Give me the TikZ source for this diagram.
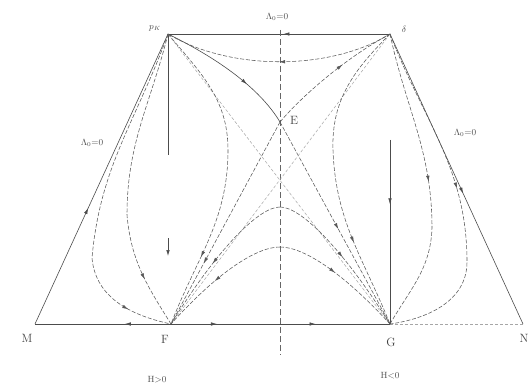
\documentclass[tikz,border=0pt]{standalone}
\usetikzlibrary{arrows.meta,decorations.markings}
\tikzset{
  edge/.style={draw=black!70, line width=0.6pt},
  traj/.style={draw=black!65, line width=0.55pt, dash pattern=on 4pt off 1.8pt},
  faint/.style={draw=black!35, line width=0.5pt, dash pattern=on 3pt off 2pt},
  axisline/.style={draw=black!60, line width=0.55pt, dash pattern=on 6pt off 3pt},
  midarrow/.style={postaction={decorate, decoration={markings,
      mark=at position #1 with {\arrow{Latex[length=6pt,width=3.5pt]}}}}},
  lbl/.style={font=\fontsize{12}{14}\selectfont, text=black!75, inner sep=0pt},
  slbl/.style={font=\fontsize{9}{11}\selectfont, text=black!70, inner sep=0pt}
}
\begin{document}
\begin{tikzpicture}[x=1pt,y=-1pt]
\useasboundingbox[fill=white] (0,0) rectangle (529,390);
% vertices and helper points
\coordinate (M) at (35,324);
\coordinate (N) at (523,324);
\coordinate (P) at (168,34);
\coordinate (Q) at (390,34);
\coordinate (F) at (171,324);
\coordinate (G) at (390,324);
\coordinate (E) at (280,122);
\coordinate (A1) at (280,207);
\coordinate (A2) at (280,247);
\coordinate (Vt) at (280,30);
\coordinate (Vb) at (280,355);
\coordinate (Pv) at (168,155);
\coordinate (Qv) at (390,140);
\coordinate (Fa) at (168,238);
\coordinate (Fb) at (168,256);
\coordinate (Lb) at (228,150);
\coordinate (Rb) at (333,150);
\coordinate (L1) at (92,258);
\coordinate (L2) at (127,215);
\coordinate (R1) at (467,262);
\coordinate (R2) at (432,228);

% outer boundary
\draw[edge, midarrow=0.4] (M) -- (P);
\draw[edge, midarrow=0.48] (Q) -- (P);
\draw[edge, midarrow=0.55] (Q) -- (N);
\draw[edge, midarrow=0.34] (F) -- (M);
\draw[edge, midarrow=0.21, midarrow=0.66] (F) -- (G);
\draw[faint] (G) -- (N);

% dashed vertical axis
\draw[axisline] (Vt) -- (Vb);

% vertical solid lines
\draw[edge] (P) -- (Pv);
\draw[edge, midarrow=0.35] (Qv) -- (G);
\draw[edge, -{Latex[length=6pt,width=3.5pt]}] (Fa) -- (Fb);

% upper structure
\draw[traj, midarrow=0.5] (Q) .. controls (330,71) and (230,71) .. (P);
\draw[edge, midarrow=0.65] (P) .. controls (225,62) and (262,92) .. (E);
\draw[traj, midarrow=0.6] (E) .. controls (300,98) and (345,58) .. (Q);

% separatrices through E
\draw[traj, midarrow=0.7] (E) -- (F);
\draw[traj, midarrow=0.53] (E) -- (G);
\draw[faint] (P) -- (G);
\draw[faint] (Q) -- (F);

% bulging curves
\draw[traj, midarrow=0.77] (P) to[out=-50,in=90] (Lb) to[out=-90,in=69] (F);
\draw[traj, midarrow=0.72] (Q) to[out=-135,in=92] (Rb) to[out=-88,in=112] (G);

% left curves near edge
\draw[traj, midarrow=0.87] (P) to[out=-110,in=85] (L1) to[out=-85,in=168] (F);
\draw[traj, midarrow=0.83] (P) to[out=-104,in=90] (L2) to[out=-85,in=122] (F);

% right curves near edge
\draw[traj, midarrow=0.48] (Q) to[out=-69,in=90] (R1) to[out=-90,in=8] (G);
\draw[traj, midarrow=0.5] (Q) to[out=-78,in=90] (R2) to[out=-92,in=60] (G);

% arches
\draw[traj, midarrow=0.5] (A1) .. controls (300,207) and (340,245) .. (G);
\draw[traj, midarrow=0.55] (A1) .. controls (260,207) and (220,245) .. (F);
\draw[traj, midarrow=0.45] (A2) .. controls (305,247) and (345,275) .. (G);
\draw[traj, midarrow=0.55] (A2) .. controls (255,247) and (215,275) .. (F);

% labels
\node[lbl] (lM) at (27,338) {M};
\node[lbl] (lN) at (524,338) {N};
\node[lbl] (lF) at (165,339) {F};
\node[lbl] (lG) at (391,342) {G};
\node[lbl] (lE) at (294,120) {E};
\node[slbl] (lP) at (155,28) {$p_K$};
\node[slbl] (lQ) at (404,29) {$\delta$};
\node[slbl] (lT) at (277,17) {$\Lambda_0{=}0$};
\node[slbl] (lL) at (92,143) {$\Lambda_0{=}0$};
\node[slbl] (lR) at (465,133) {$\Lambda_0{=}0$};
\node[slbl] (lH1) at (157,380) {H${>}$0};
\node[slbl] (lH2) at (390,376) {H${<}$0};
\end{tikzpicture}
\end{document}
